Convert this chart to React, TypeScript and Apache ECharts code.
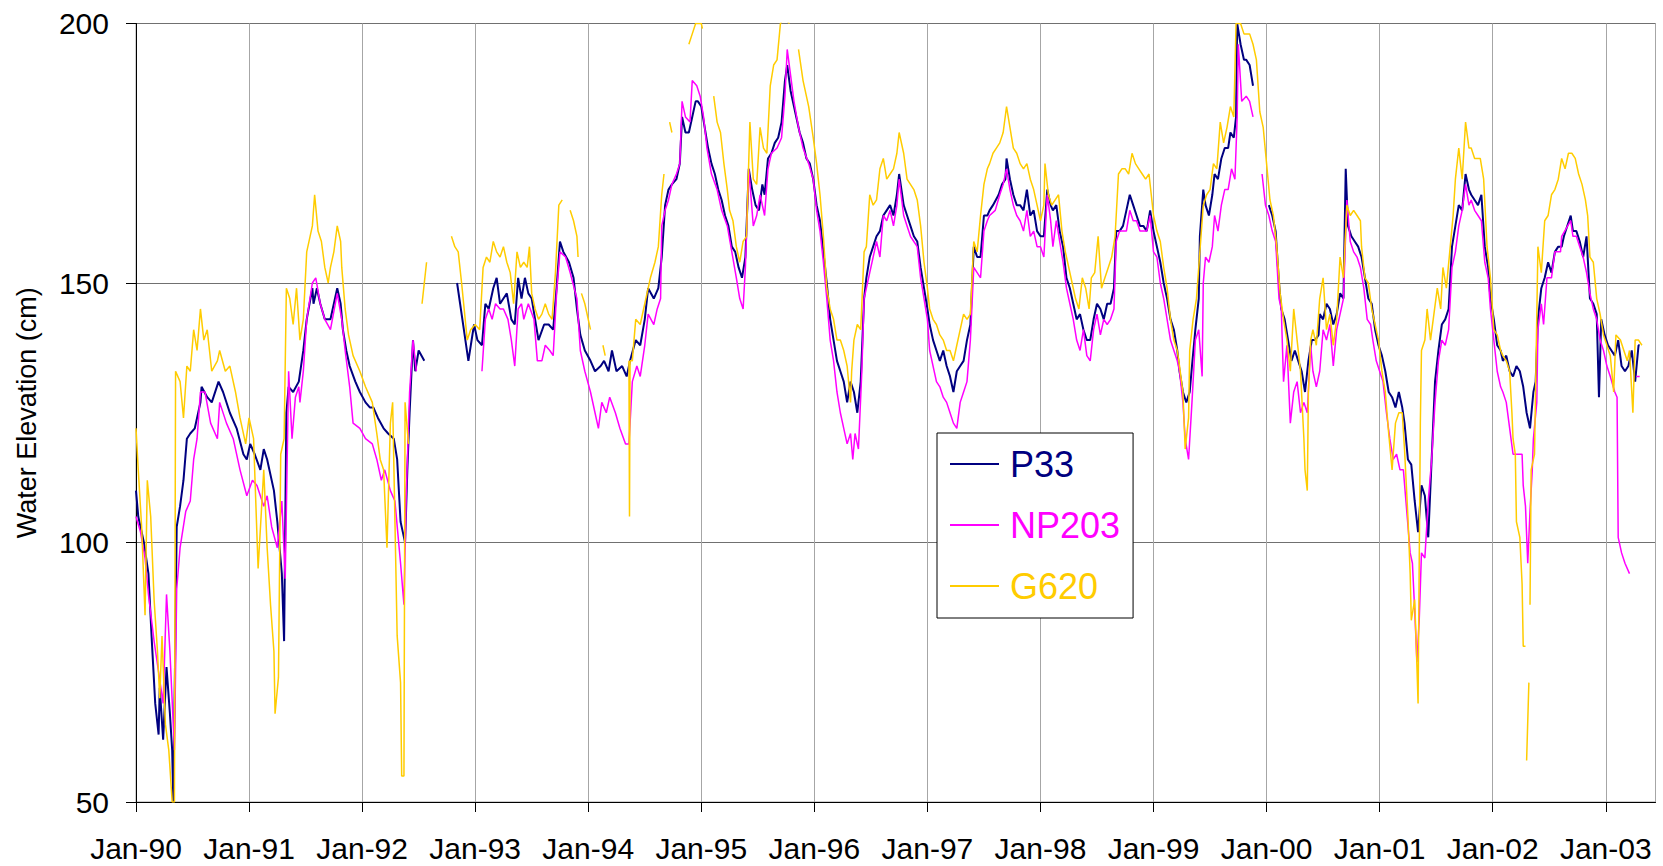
import React, { useEffect, useRef } from "react";
import * as echarts from "echarts";

// x = decimal year, y = water elevation (cm); null marks a gap in the record
const p33: [number, number | null][] = [
  [1990.00,110],[1990.02,105],[1990.07,100],[1990.11,94],[1990.14,81],[1990.17,69],[1990.20,63],[1990.21,72],[1990.24,62],[1990.27,76],[1990.30,67],[1990.32,60],[1990.33,50],[1990.36,103],[1990.39,107],[1990.42,112],[1990.45,120],[1990.48,121],[1990.52,122],[1990.57,127],[1990.58,130],[1990.63,128],[1990.67,127],[1990.73,131],[1990.77,129],[1990.83,125],[1990.89,122],[1990.95,117],[1990.98,116],[1991.01,119],[1991.05,117],[1991.10,114],[1991.13,118],[1991.16,116],[1991.22,110],[1991.25,104],[1991.29,94],[1991.31,81],[1991.33,125],[1991.35,130],[1991.39,129],[1991.44,131],
  [1991.48,137],[1991.51,143],[1991.56,149],[1991.57,146],[1991.60,149],[1991.63,146],[1991.67,143],[1991.72,143],[1991.78,149],[1991.81,146],[1991.83,141],[1991.86,137],[1991.89,134],[1991.94,131],[1991.98,129],[1992.03,127],[1992.07,126],[1992.10,126],[1992.14,124],[1992.19,122],[1992.23,121],[1992.28,120],[1992.31,116],[1992.34,104],[1992.36,102],[1992.38,100],[1992.40,114],[1992.42,125],[1992.45,139],[1992.47,133],[1992.50,137],[1992.55,135],[1992.60,null],
  [1992.84,150],[1992.90,141],[1992.94,135],[1992.99,142],[1993.02,139],[1993.06,138],[1993.09,146],[1993.12,145],[1993.16,149],[1993.19,151],[1993.22,146],[1993.25,147],[1993.28,148],[1993.32,143],[1993.35,142],[1993.38,151],[1993.41,147],[1993.44,151],[1993.47,148],[1993.50,147],[1993.53,143],[1993.56,139],[1993.61,142],[1993.65,142],[1993.69,141],[1993.72,149],[1993.75,158],[1993.78,156],[1993.83,154],[1993.87,151],[1993.90,145],[1993.93,140],[1993.97,137],[1994.02,135],[1994.06,133],[1994.11,134],[1994.14,135],[1994.18,133],[1994.21,137],[1994.25,133],[1994.30,134],[1994.34,132],[1994.37,135],[1994.42,139],
  [1994.46,138],[1994.50,143],[1994.53,149],[1994.58,147],[1994.62,149],[1994.65,155],[1994.68,165],[1994.71,168],[1994.74,169],[1994.78,170],[1994.81,173],[1994.83,182],[1994.86,179],[1994.89,179],[1994.92,182],[1994.95,185],[1994.97,185],[1995.00,184],[1995.03,180],[1995.06,176],[1995.09,173],[1995.12,171],[1995.15,168],[1995.18,166],[1995.21,163],[1995.24,161],[1995.27,157],[1995.30,156],[1995.33,153],[1995.36,151],[1995.39,155],[1995.42,172],[1995.45,168],[1995.48,165],[1995.51,164],[1995.54,169],[1995.56,167],[1995.59,174],[1995.62,175],[1995.65,177],[1995.68,178],[1995.71,181],[1995.74,189],[1995.76,192],[1995.79,187],[1995.82,184],[1995.84,182],[1995.87,179],[1995.90,177],[1995.93,174],
  [1995.96,173],[1995.99,170],[1996.02,165],[1996.05,162],[1996.08,156],[1996.11,150],[1996.14,143],[1996.17,139],[1996.20,135],[1996.23,133],[1996.26,131],[1996.29,127],[1996.32,131],[1996.35,129],[1996.38,125],[1996.41,131],[1996.44,147],[1996.46,151],[1996.49,155],[1996.52,157],[1996.55,159],[1996.58,160],[1996.61,163],[1996.64,164],[1996.67,165],[1996.70,163],[1996.73,167],[1996.75,171],[1996.79,165],[1996.82,163],[1996.85,161],[1996.88,159],[1996.91,158],[1996.94,153],[1996.97,149],[1997.00,145],[1997.02,142],[1997.05,139],[1997.08,137],[1997.11,135],[1997.14,137],[1997.17,134],[1997.20,132],[1997.23,129],[1997.26,133],[1997.29,134],[1997.32,135],[1997.35,139],[1997.38,142],[1997.41,157],[1997.44,155],
  [1997.47,155],[1997.50,163],[1997.53,163],[1997.55,164],[1997.58,165],[1997.63,167],[1997.66,169],[1997.69,170],[1997.70,174],[1997.73,170],[1997.76,167],[1997.79,165],[1997.82,165],[1997.85,164],[1997.88,168],[1997.91,163],[1997.94,164],[1997.97,160],[1998.00,159],[1998.03,159],[1998.06,168],[1998.09,165],[1998.11,164],[1998.14,165],[1998.17,160],[1998.20,157],[1998.23,151],[1998.26,149],[1998.29,146],[1998.32,143],[1998.35,144],[1998.38,141],[1998.41,139],[1998.44,139],[1998.47,143],[1998.50,146],[1998.53,145],[1998.56,143],[1998.59,146],[1998.62,146],[1998.65,149],[1998.67,160],[1998.70,160],[1998.73,161],[1998.76,164],[1998.79,167],[1998.82,165],[1998.85,163],[1998.88,161],[1998.91,161],[1998.94,160],
  [1998.97,164],[1999.00,160],[1999.03,157],[1999.06,154],[1999.09,150],[1999.12,147],[1999.15,143],[1999.18,141],[1999.21,137],[1999.23,133],[1999.26,129],[1999.29,127],[1999.32,129],[1999.34,134],[1999.37,141],[1999.40,147],[1999.41,159],[1999.44,168],[1999.46,165],[1999.49,163],[1999.52,167],[1999.54,171],[1999.57,170],[1999.60,174],[1999.63,176],[1999.66,176],[1999.68,179],[1999.71,178],[1999.73,182],[1999.74,200],[1999.77,196],[1999.80,193],[1999.82,193],[1999.85,192],[1999.88,188],[1999.95,null],
  [2000.02,165],[2000.05,163],[2000.08,160],[2000.11,150],[2000.13,145],[2000.16,143],[2000.19,139],[2000.22,135],[2000.25,137],[2000.28,135],[2000.31,133],[2000.34,129],[2000.37,135],[2000.40,139],[2000.43,139],[2000.46,140],
  [2000.47,144],[2000.50,143],[2000.53,146],[2000.56,145],[2000.59,142],[2000.62,144],[2000.65,148],[2000.68,147],[2000.70,172],[2000.72,161],[2000.75,159],[2000.78,158],[2000.81,157],[2000.84,155],[2000.87,151],[2000.90,147],[2000.93,146],[2000.96,141],[2000.99,138],[2001.02,136],[2001.05,133],[2001.08,129],[2001.11,128],[2001.14,126],[2001.17,129],[2001.20,126],[2001.22,123],[2001.25,116],[2001.28,115],[2001.31,108],[2001.34,102],[2001.37,111],[2001.40,109],[2001.43,101],[2001.46,116],[2001.49,131],[2001.52,137],[2001.55,142],[2001.58,143],[2001.61,145],[2001.64,157],[2001.67,161],[2001.70,165],[2001.73,164],[2001.76,171],[2001.79,168],[2001.81,167],[2001.84,166],[2001.87,165],[2001.90,167],[2001.93,157],[2001.96,153],
  [2001.98,147],[2002.01,143],[2002.04,138],[2002.07,137],[2002.09,135],[2002.12,136],[2002.15,133],[2002.18,132],[2002.21,134],[2002.24,133],[2002.27,130],[2002.30,125],[2002.33,122],[2002.36,129],[2002.38,131],[2002.40,143],[2002.43,149],[2002.46,151],[2002.49,154],[2002.52,152],[2002.55,156],[2002.58,157],[2002.61,157],[2002.63,159],[2002.69,163],[2002.71,160],[2002.74,160],[2002.77,158],[2002.80,155],[2002.83,159],[2002.86,147],[2002.89,146],[2002.92,144],[2002.94,128],[2002.96,143],[2002.99,140],[2003.02,138],[2003.05,137],[2003.08,136],[2003.11,139],[2003.14,134],[2003.17,133],[2003.20,134],[2003.23,137],[2003.26,131],[2003.29,138],[2003.30,138]
];

const np203: [number, number | null][] = [
  [1990.00,105],[1990.04,102],[1990.08,97],[1990.11,90],[1990.16,81],[1990.20,75],[1990.24,69],[1990.27,90],[1990.30,79],[1990.34,60],[1990.36,91],[1990.39,99],[1990.44,106],[1990.48,108],[1990.51,116],[1990.54,120],[1990.57,129],[1990.61,129],[1990.66,123],[1990.72,120],[1990.74,127],[1990.80,123],[1990.86,120],[1990.92,114],[1990.98,109],[1991.03,112],[1991.07,111],[1991.13,107],[1991.16,109],[1991.20,103],[1991.25,99],[1991.29,108],[1991.32,93],[1991.35,133],[1991.38,120],[1991.41,128],[1991.44,130],
  [1991.45,127],[1991.48,133],[1991.51,143],[1991.56,150],[1991.59,151],[1991.63,146],[1991.67,143],[1991.72,141],[1991.78,148],[1991.82,143],[1991.85,137],[1991.89,130],[1991.92,123],[1991.98,122],[1992.03,120],[1992.09,119],[1992.13,116],[1992.17,112],[1992.20,114],[1992.25,110],[1992.29,108],[1992.34,96],[1992.37,88],[1992.39,109],[1992.42,129],[1992.45,139],[1992.48,133],[1992.52,null],
  [1993.06,133],[1993.09,143],[1993.12,145],[1993.15,143],[1993.18,146],[1993.22,145],[1993.25,145],[1993.29,143],[1993.32,139],[1993.35,134],[1993.38,145],[1993.41,146],[1993.43,143],[1993.47,146],[1993.52,143],[1993.55,135],[1993.59,135],[1993.62,138],[1993.66,137],[1993.69,136],[1993.72,148],[1993.75,156],[1993.80,155],[1993.84,152],[1993.90,147],[1993.93,137],[1993.97,133],[1994.02,129],[1994.06,125],[1994.09,122],[1994.12,127],[1994.16,125],[1994.19,128],[1994.24,125],[1994.28,122],[1994.33,119],[1994.36,119],[1994.39,131],[1994.43,134],
  [1994.46,132],[1994.50,138],[1994.53,144],[1994.58,142],[1994.61,145],[1994.64,147],[1994.65,161],[1994.68,164],[1994.71,166],[1994.74,169],[1994.78,171],[1994.81,173],[1994.83,185],[1994.86,182],[1994.90,181],[1994.92,189],[1994.96,188],[1994.99,186],[1995.02,182],[1995.05,176],[1995.09,171],[1995.14,168],[1995.18,164],[1995.23,161],[1995.27,156],[1995.31,151],[1995.34,147],[1995.37,145],[1995.39,153],[1995.42,172],[1995.46,161],[1995.49,163],[1995.52,167],[1995.56,163],[1995.59,172],[1995.62,175],[1995.67,176],[1995.71,178],[1995.74,186],[1995.76,195],[1995.79,190],[1995.82,185],[1995.86,180],[1995.90,176],[1995.95,173],
  [1995.99,170],[1996.02,164],[1996.05,160],[1996.08,154],[1996.11,147],[1996.14,139],[1996.17,135],[1996.20,129],[1996.23,125],[1996.26,122],[1996.29,119],[1996.32,121],[1996.34,116],[1996.36,121],[1996.39,118],[1996.42,133],[1996.44,147],[1996.46,149],[1996.49,152],[1996.52,155],[1996.55,158],[1996.58,155],[1996.61,163],[1996.64,162],[1996.67,164],[1996.70,161],[1996.73,165],[1996.75,170],[1996.79,163],[1996.82,161],[1996.85,159],[1996.88,158],[1996.91,157],[1996.94,151],[1996.97,147],[1997.00,143],[1997.02,137],[1997.05,134],[1997.08,131],[1997.11,130],[1997.14,128],[1997.17,127],[1997.20,125],[1997.23,123],[1997.26,122],[1997.29,127],[1997.32,129],[1997.35,131],[1997.38,139],[1997.41,153],[1997.44,152],
  [1997.47,151],[1997.50,160],[1997.53,162],[1997.55,163],[1997.60,164],[1997.64,167],[1997.67,169],[1997.70,172],[1997.73,168],[1997.76,165],[1997.79,163],[1997.82,162],[1997.85,160],[1997.88,164],[1997.91,159],[1997.94,160],[1997.97,157],[1998.00,157],[1998.03,155],[1998.06,167],[1998.09,162],[1998.11,157],[1998.14,162],[1998.17,158],[1998.20,154],[1998.23,149],[1998.26,146],[1998.29,143],[1998.32,139],[1998.35,137],[1998.38,141],[1998.41,136],[1998.44,135],[1998.47,141],[1998.50,144],[1998.53,140],[1998.56,143],[1998.59,142],[1998.62,143],[1998.65,145],[1998.67,158],[1998.70,160],[1998.73,160],[1998.76,160],[1998.79,164],[1998.82,162],[1998.85,162],[1998.88,160],[1998.91,160],[1998.94,160],
  [1998.97,163],[1999.00,156],[1999.03,155],[1999.06,150],[1999.09,147],[1999.12,143],[1999.15,139],[1999.18,137],[1999.21,135],[1999.23,133],[1999.26,127],[1999.28,120],[1999.31,116],[1999.34,127],[1999.37,139],[1999.40,141],[1999.43,132],[1999.44,150],[1999.46,155],[1999.49,154],[1999.52,157],[1999.54,163],[1999.57,160],[1999.60,165],[1999.63,168],[1999.66,168],[1999.69,172],[1999.72,170],[1999.74,182],[1999.75,196],[1999.78,185],[1999.82,186],[1999.85,185],[1999.88,182],[1999.92,null],
  [1999.96,171],[1999.99,165],[2000.02,163],[2000.05,160],[2000.08,158],[2000.11,147],[2000.13,145],[2000.15,131],[2000.18,138],[2000.21,123],[2000.24,129],[2000.27,131],[2000.30,125],[2000.33,127],[2000.36,125],[2000.39,138],[2000.41,133],[2000.44,130],
  [2000.47,133],[2000.50,141],[2000.53,139],[2000.56,142],[2000.59,134],[2000.62,141],[2000.65,144],[2000.68,147],[2000.71,166],[2000.74,158],[2000.77,156],[2000.80,155],[2000.83,153],[2000.86,149],[2000.89,143],[2000.92,142],[2000.94,139],[2000.97,135],[2001.00,133],[2001.03,131],[2001.06,125],[2001.09,120],[2001.12,116],[2001.15,117],[2001.18,114],[2001.21,114],[2001.24,106],[2001.27,98],[2001.29,96],[2001.31,87],[2001.33,77],[2001.35,85],[2001.37,98],[2001.40,97],[2001.43,108],[2001.46,116],[2001.49,127],[2001.52,135],[2001.55,139],[2001.58,138],[2001.61,141],[2001.64,153],[2001.67,156],[2001.70,161],[2001.73,164],[2001.76,169],[2001.79,165],[2001.81,166],[2001.84,164],[2001.87,163],[2001.90,162],[2001.93,154],[2001.96,151],
  [2001.98,145],[2002.01,139],[2002.04,133],[2002.07,130],[2002.09,129],[2002.12,127],[2002.15,122],[2002.18,117],[2002.21,117],[2002.26,117],[2002.27,111],[2002.29,107],[2002.31,96],[2002.33,106],[2002.35,114],[2002.36,120],[2002.39,127],[2002.40,141],[2002.43,146],[2002.45,142],[2002.48,151],[2002.52,151],[2002.55,156],[2002.60,156],[2002.61,159],[2002.69,162],[2002.71,159],[2002.74,159],[2002.77,157],[2002.80,155],[2002.83,152],[2002.86,148],[2002.89,145],[2002.92,143],[2002.95,139],[2002.98,137],[2003.01,134],[2003.04,132],[2003.08,129],[2003.10,128],[2003.11,101],[2003.14,98],[2003.17,96],[2003.21,94],[2003.24,null],[2003.27,132],[2003.30,132]
];

const g620: [number, number | null][] = [
  [1990.00,122],[1990.02,114],[1990.05,103],[1990.08,86],[1990.10,112],[1990.13,105],[1990.16,89],[1990.19,79],[1990.21,70],[1990.23,82],[1990.26,65],[1990.29,60],[1990.32,50],[1990.34,50],[1990.35,133],[1990.39,131],[1990.42,124],[1990.45,134],[1990.48,133],[1990.51,141],[1990.54,137],[1990.57,145],[1990.60,139],[1990.63,141],[1990.67,133],[1990.72,135],[1990.74,137],[1990.79,133],[1990.83,134],[1990.88,129],[1990.92,124],[1990.97,119],[1991.00,124],[1991.04,120],[1991.08,95],[1991.13,114],[1991.16,99],[1991.19,88],[1991.22,79],[1991.23,67],[1991.26,74],[1991.28,117],[1991.31,120],[1991.33,149],[1991.36,147],[1991.39,142],[1991.42,149],
  [1991.45,139],[1991.48,143],[1991.51,156],[1991.56,161],[1991.58,167],[1991.61,160],[1991.64,158],[1991.67,153],[1991.70,150],[1991.72,153],[1991.75,156],[1991.78,161],[1991.81,158],[1991.82,153],[1991.85,145],[1991.88,140],[1991.92,136],[1991.98,133],[1992.03,130],[1992.09,127],[1992.13,121],[1992.16,116],[1992.19,114],[1992.22,99],[1992.25,123],[1992.27,127],[1992.31,82],[1992.34,73],[1992.35,55],[1992.37,55],[1992.38,127],[1992.41,119],[1992.45,null],[1992.53,146],[1992.55,150],[1992.57,154],[1992.65,null],
  [1992.79,159],[1992.82,157],[1992.85,156],[1992.88,150],[1992.93,139],[1992.96,141],[1993.00,142],[1993.04,141],[1993.07,153],[1993.10,155],[1993.13,154],[1993.16,158],[1993.19,156],[1993.22,155],[1993.25,157],[1993.28,154],[1993.31,152],[1993.34,146],[1993.37,156],[1993.40,153],[1993.43,154],[1993.46,153],[1993.48,157],[1993.50,148],[1993.53,145],[1993.56,143],[1993.59,144],[1993.62,146],[1993.65,144],[1993.68,143],[1993.71,152],[1993.74,165],[1993.77,166],[1993.80,null],[1993.84,164],[1993.87,162],[1993.90,159],[1993.91,155],[1993.92,null],[1993.94,148],[1993.97,146],[1994.02,141],[1994.05,null],[1994.13,138],[1994.15,136],[1994.20,null],
  [1994.36,135],[1994.365,105],[1994.37,135],[1994.39,135],[1994.42,143],[1994.46,142],[1994.50,146],[1994.55,151],[1994.59,154],[1994.62,157],[1994.65,167],[1994.67,171],[1994.69,null],[1994.72,181],[1994.74,179],[1994.80,null],[1994.89,196],[1994.92,198],[1994.95,200],[1995.00,200],[1995.01,199],[1995.05,null],
  [1995.11,186],[1995.14,181],[1995.17,179],[1995.20,173],[1995.23,168],[1995.25,164],[1995.28,162],[1995.31,157],[1995.34,154],[1995.37,158],[1995.40,159],[1995.43,181],[1995.46,170],[1995.49,169],[1995.52,180],[1995.55,176],[1995.58,175],[1995.61,188],[1995.64,192],[1995.67,193],[1995.70,200],[1995.73,201],[1995.78,200],[1995.80,null],[1995.86,195],[1995.90,189],[1995.95,184],
  [1995.99,178],[1996.02,173],[1996.05,167],[1996.08,159],[1996.11,149],[1996.14,145],[1996.17,143],[1996.20,139],[1996.23,139],[1996.26,137],[1996.29,134],[1996.32,127],[1996.33,133],[1996.35,139],[1996.38,142],[1996.41,141],[1996.44,156],[1996.46,157],[1996.49,167],[1996.52,165],[1996.55,166],[1996.58,172],[1996.61,174],[1996.64,170],[1996.67,171],[1996.70,172],[1996.73,175],[1996.75,179],[1996.79,175],[1996.82,170],[1996.85,169],[1996.88,168],[1996.91,166],[1996.94,161],[1996.97,154],[1997.00,149],[1997.02,145],[1997.05,143],[1997.08,142],[1997.11,140],[1997.14,139],[1997.17,137],[1997.20,137],[1997.23,135],[1997.26,138],[1997.29,141],[1997.32,144],[1997.35,143],[1997.38,144],[1997.41,158],[1997.44,156],
  [1997.47,163],[1997.50,169],[1997.53,172],[1997.55,173],[1997.58,175],[1997.61,176],[1997.64,177],[1997.67,179],[1997.70,184],[1997.73,180],[1997.76,176],[1997.79,175],[1997.82,173],[1997.85,172],[1997.88,173],[1997.91,170],[1997.94,168],[1997.97,165],[1998.00,162],[1998.03,165],[1998.04,173],[1998.07,167],[1998.10,165],[1998.13,166],[1998.16,167],[1998.19,160],[1998.22,156],[1998.25,153],[1998.28,150],[1998.31,147],[1998.34,145],[1998.37,151],[1998.40,149],[1998.43,145],[1998.45,151],[1998.48,152],[1998.51,159],[1998.54,149],[1998.57,151],[1998.60,153],[1998.63,155],[1998.66,159],[1998.69,171],[1998.72,172],[1998.75,172],[1998.78,171],[1998.81,175],[1998.84,173],[1998.87,172],[1998.90,171],[1998.93,170],[1998.96,171],
  [1999.00,163],[1999.03,160],[1999.06,158],[1999.09,153],[1999.12,149],[1999.15,143],[1999.18,139],[1999.21,137],[1999.23,134],[1999.26,129],[1999.28,118],[1999.31,124],[1999.32,137],[1999.35,143],[1999.38,147],[1999.41,156],[1999.44,165],[1999.47,167],[1999.50,168],[1999.53,173],[1999.56,172],[1999.59,181],[1999.62,177],[1999.65,180],[1999.68,184],[1999.71,182],[1999.73,200],[1999.77,200],[1999.80,198],[1999.85,198],[1999.88,196],[1999.91,193],[1999.94,183],[1999.97,180],[2000.00,173],[2000.03,166],[2000.06,163],[2000.09,157],[2000.12,148],[2000.15,143],[2000.18,139],[2000.21,133],[2000.24,145],[2000.27,139],[2000.30,133],[2000.33,120],[2000.34,114],[2000.36,110],[2000.37,129],[2000.39,139],[2000.41,141],[2000.44,138],
  [2000.47,147],[2000.50,151],[2000.53,141],[2000.56,144],[2000.59,138],[2000.62,143],[2000.65,155],[2000.68,151],[2000.71,165],[2000.74,163],[2000.77,164],[2000.80,163],[2000.83,162],[2000.84,157],[2000.87,151],[2000.90,150],[2000.93,145],[2000.96,142],[2000.99,139],[2001.02,133],[2001.05,129],[2001.08,121],[2001.11,114],[2001.14,123],[2001.17,125],[2001.20,125],[2001.22,118],[2001.25,105],[2001.27,94],[2001.28,85],[2001.31,89],[2001.33,76],[2001.34,69],[2001.36,123],[2001.37,137],[2001.40,139],[2001.42,145],[2001.45,139],[2001.48,144],[2001.51,149],[2001.54,145],[2001.56,153],[2001.59,149],[2001.62,156],[2001.65,163],[2001.67,170],[2001.70,176],[2001.73,170],[2001.76,181],[2001.79,176],[2001.81,176],[2001.84,174],[2001.89,174],[2001.92,170],[2001.95,157],
  [2001.98,151],[2002.01,141],[2002.04,140],[2002.07,137],[2002.09,136],[2002.12,135],[2002.15,133],[2002.17,125],[2002.18,120],[2002.20,117],[2002.21,104],[2002.24,101],[2002.26,92],[2002.27,80],[2002.29,80],[2002.295,null],[2002.30,58],[2002.32,73],[2002.325,null],[2002.33,88],[2002.34,114],[2002.36,116],[2002.37,117],[2002.40,157],[2002.43,152],[2002.46,162],[2002.49,163],[2002.52,167],[2002.55,168],[2002.58,170],[2002.61,174],[2002.64,172],[2002.67,175],[2002.70,175],[2002.73,174],[2002.76,171],[2002.79,169],[2002.82,166],[2002.84,163],[2002.86,155],[2002.89,154],[2002.92,147],[2002.95,144],[2002.98,140],[2003.01,138],[2003.04,136],[2003.07,129],[2003.09,140],[2003.13,139],[2003.16,137],[2003.19,135],[2003.21,137],[2003.24,125],[2003.26,139],[2003.29,139],[2003.32,138]
];

const seriesNames = ["P33", "NP203", "G620"];
const seriesColors = ["#000080", "#FF00FF", "#FFCC00"];
const seriesValues = [p33, np203, g620];
const yTicks = [50, 100, 150, 200];
const xStartYear = 1990;
const xEndYear = 2003.44;

const toData = (arr: [number, number | null][]) =>
  arr.map(([x, y]) => [x, y === null ? "-" : y]);

export default function App() {
  const ref = useRef<HTMLDivElement>(null);
  useEffect(() => {
    if (!ref.current) return;
    const chart = echarts.init(ref.current, null, { renderer: "svg" });
    const font = "'Liberation Sans', Arial, sans-serif";
    chart.setOption({
      animation: false,
      backgroundColor: "#ffffff",
      textStyle: { fontFamily: font },
      grid: {
        left: 136,
        right: 7.5,
        top: 23.5,
        bottom: 64,
        show: true,
        borderColor: "#a0a0a0",
        borderWidth: 1,
        backgroundColor: "transparent",
      },
      xAxis: {
        type: "value",
        min: xStartYear,
        max: xEndYear,
        interval: 1,
        axisLine: { onZero: false, lineStyle: { color: "#000", width: 1 } },
        axisTick: { show: true, length: 10, lineStyle: { color: "#000" } },
        axisLabel: {
          margin: 31,
          fontSize: 30,
          color: "#000",
          fontFamily: font,
          showMaxLabel: false,
          formatter: (v: number) =>
            Number.isInteger(v) ? "Jan-" + String(v).slice(2) : "",
        },
        splitLine: { show: true, lineStyle: { color: "#a6a6a6", width: 1 } },
      },
      yAxis: {
        type: "value",
        min: yTicks[0],
        max: yTicks[yTicks.length - 1],
        interval: 50,
        name: "Water Elevation (cm)",
        nameLocation: "middle",
        nameGap: 96,
        nameTextStyle: { fontSize: 27, color: "#000", fontFamily: font },
        axisLine: { show: true, onZero: false, lineStyle: { color: "#000", width: 1 } },
        axisTick: { show: true, length: 10, lineStyle: { color: "#000" } },
        axisLabel: { margin: 27, fontSize: 30, color: "#000", fontFamily: font },
        splitLine: { show: true, lineStyle: { color: "#707070", width: 1 } },
      },
      legend: {
        orient: "vertical",
        left: 937,
        top: 433,
        padding: [11, 13, 12, 13],
        itemGap: 21,
        itemWidth: 49,
        itemHeight: 2,
        icon: "rect",
        borderColor: "#000",
        borderWidth: 1,
        backgroundColor: "#ffffff",
        textStyle: { fontSize: 36, lineHeight: 40, fontFamily: font, padding: [0, 0, 0, 6] },
        data: seriesNames.map((n, i) => ({ name: n, textStyle: { color: seriesColors[i] } })),
      },
      series: seriesNames.map((n, i) => ({
        type: "line",
        name: n,
        data: toData(seriesValues[i]),
        color: seriesColors[i],
        showSymbol: false,
        symbol: "none",
        connectNulls: false,
        clip: true,
        lineStyle: { color: seriesColors[i], width: i === 0 ? 2 : 1.5 },
        emphasis: { disabled: true },
      })),
    });
    return () => chart.dispose();
  }, []);
  return (
    <div
      ref={ref}
      style={{ position: "fixed", left: 0, top: 0, width: 1663, height: 866, background: "#fff" }}
    />
  );
}
